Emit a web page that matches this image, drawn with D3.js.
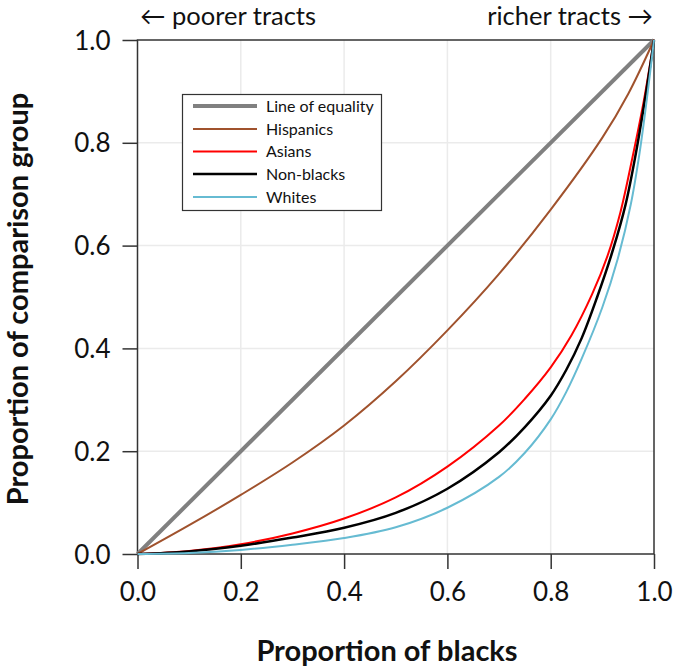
<!DOCTYPE html>
<html><head><meta charset="utf-8">
<script src="https://cdn.jsdelivr.net/npm/d3@7"></script>
<style>body{margin:0;background:#fff}svg{display:block}text{font-family:Lato,"Open Sans",sans-serif}</style>
</head><body><svg id="c" width="677" height="670"></svg>
<script>
const ticks = [0, 0.2, 0.4, 0.6, 0.8, 1.0];
const equalityX = [0, 1];
const equalityY = [0, 1];
const hispX = [0, 0.1, 0.2, 0.3, 0.4, 0.5, 0.6, 0.7, 0.8, 0.9, 0.95, 1.0];
const hispY = [0, 0.056, 0.115, 0.178, 0.25, 0.336, 0.435, 0.545, 0.67, 0.81, 0.895, 1.0];
const asianX = [0, 0.1, 0.2, 0.3, 0.4, 0.5, 0.6, 0.7, 0.75, 0.8, 0.84, 0.88, 0.91, 0.935, 0.958, 0.98, 1.0];
const asianY = [0, 0.006, 0.019, 0.04, 0.069, 0.11, 0.17, 0.25, 0.302, 0.363, 0.425, 0.505, 0.58, 0.665, 0.77, 0.88, 1.0];
const nonblackX = [0, 0.1, 0.2, 0.3, 0.4, 0.5, 0.6, 0.7, 0.75, 0.8, 0.83, 0.86, 0.89, 0.92, 0.945, 0.965, 0.985, 1.0];
const nonblackY = [0, 0.005, 0.016, 0.032, 0.051, 0.08, 0.127, 0.198, 0.247, 0.308, 0.358, 0.42, 0.5, 0.59, 0.68, 0.78, 0.9, 1.0];
const whiteX = [0, 0.1, 0.2, 0.3, 0.4, 0.5, 0.6, 0.7, 0.75, 0.8, 0.83, 0.86, 0.9, 0.93, 0.955, 0.972, 0.988, 1.0];
const whiteY = [0, 0.002, 0.008, 0.018, 0.031, 0.052, 0.09, 0.15, 0.197, 0.262, 0.315, 0.38, 0.48, 0.575, 0.68, 0.78, 0.9, 1.0];
const seriesNames = ["Line of equality", "Hispanics", "Asians", "Non-blacks", "Whites"];

const series = [
  {name: seriesNames[0], xs: equalityX, ys: equalityY, color: "#808080", w: 4},
  {name: seriesNames[1], xs: hispX, ys: hispY, color: "#a0522d", w: 2},
  {name: seriesNames[2], xs: asianX, ys: asianY, color: "#ff0000", w: 2},
  {name: seriesNames[3], xs: nonblackX, ys: nonblackY, color: "#000000", w: 2.5},
  {name: seriesNames[4], xs: whiteX, ys: whiteY, color: "#66bbd2", w: 2}
];

const svg = d3.select("#c");
const L = 137.5, R = 654, T = 40, B = 554;
const x = d3.scaleLinear().domain([0, 1]).range([L, R]);
const y = d3.scaleLinear().domain([0, 1]).range([B, T]);

// grid
const g = svg.append("g");
g.selectAll("line.gx").data(ticks.slice(1, -1)).join("line")
  .attr("x1", d => x(d)).attr("x2", d => x(d)).attr("y1", T).attr("y2", B)
  .attr("stroke", "#ebebeb").attr("stroke-width", 1.5);
g.selectAll("line.gy").data(ticks.slice(1, -1)).join("line")
  .attr("y1", d => y(d)).attr("y2", d => y(d)).attr("x1", L).attr("x2", R)
  .attr("stroke", "#ebebeb").attr("stroke-width", 1.5);

// axes
const fmt = d3.format(".1f");
const xa = svg.append("g").attr("transform", `translate(0,${B})`)
  .call(d3.axisBottom(x).tickValues(ticks).tickFormat(fmt).tickSize(15).tickPadding(14));
const ya = svg.append("g").attr("transform", `translate(${L},0)`)
  .call(d3.axisLeft(y).tickValues(ticks).tickFormat(fmt).tickSize(15).tickPadding(12));
[xa, ya].forEach(a => {
  a.selectAll("path").remove();
  a.selectAll("line").attr("stroke", "#333").attr("stroke-width", 1.5);
  a.selectAll("text").attr("font-size", 26).attr("fill", "#111").attr("font-family", "Lato");
});
ya.selectAll("text").attr("dy", "0.35em");

// frame
svg.append("rect").attr("x", L).attr("y", T).attr("width", R - L).attr("height", B - T)
  .attr("fill", "none").attr("stroke", "#333").attr("stroke-width", 1.5);

// lines
const line = d3.line().curve(d3.curveCatmullRom.alpha(0.5));
svg.append("g").selectAll("path").data(series).join("path")
  .attr("d", s => line(s.xs.map((v, i) => [x(v), y(s.ys[i])])))
  .attr("fill", "none").attr("stroke", s => s.color).attr("stroke-width", s => s.w)
  .attr("stroke-linejoin", "round");

// legend
const lg = svg.append("g");
lg.append("rect").attr("x", 182.5).attr("y", 94.5).attr("width", 199).attr("height", 116)
  .attr("fill", "#fff").attr("stroke", "#333").attr("stroke-width", 1.2);
const rowY = [106, 129, 151.5, 174, 197];
series.forEach((s, i) => {
  lg.append("line").attr("x1", 193).attr("x2", 257).attr("y1", rowY[i]).attr("y2", rowY[i])
    .attr("stroke", s.color).attr("stroke-width", s.w);
  lg.append("text").attr("x", 266).attr("y", rowY[i]).attr("dy", "0.35em")
    .attr("font-size", 16).attr("fill", "#111").text(s.name);
});

// titles
svg.append("text").attr("x", 387).attr("y", 661).attr("text-anchor", "middle")
  .attr("font-size", 29).attr("font-weight", "bold").attr("fill", "#111").text("Proportion of blacks");
svg.append("text").attr("transform", "translate(28,299) rotate(-90)").attr("text-anchor", "middle")
  .attr("font-size", 29).attr("font-weight", "bold").attr("fill", "#111").text("Proportion of comparison group");
svg.append("text").attr("x", 140).attr("y", 25).attr("font-size", 25.5).attr("fill", "#111").text("← poorer tracts");
svg.append("text").attr("x", 653).attr("y", 25).attr("text-anchor", "end").attr("font-size", 25.5).attr("fill", "#111").text("richer tracts →");
</script></body></html>
